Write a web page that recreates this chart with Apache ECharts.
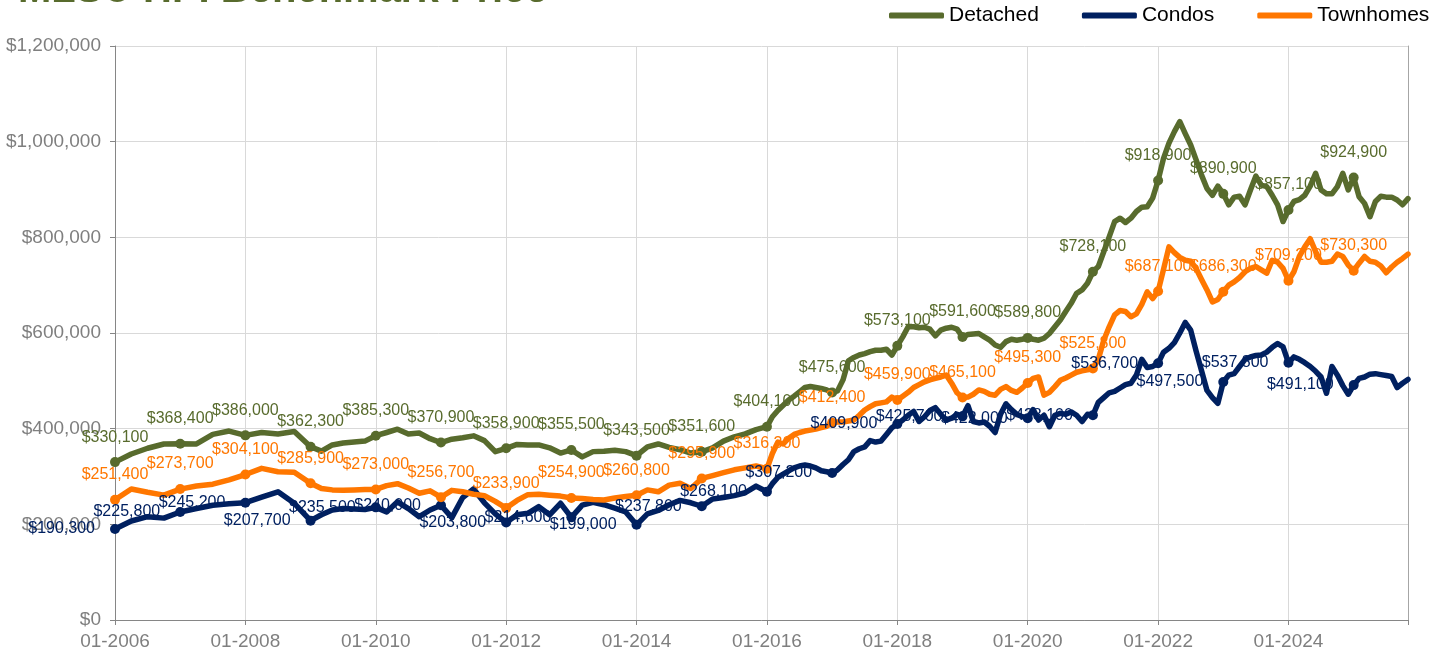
<!DOCTYPE html>
<html>
<head>
<meta charset="utf-8">
<script src="https://cdn.jsdelivr.net/npm/echarts@6/dist/echarts.min.js"></script>
<style>
html,body{margin:0;padding:0;background:#fff;}
#chart{width:1448px;height:654px;}
</style>
</head>
<body>
<div id="chart"></div>
<script>
// Dates of data points (quarterly 2006-2008, bi-monthly 2009-2015, monthly 2016-2025)
const dates = [
"2006-01","2006-04","2006-07","2006-10","2007-01","2007-04","2007-07","2007-10","2008-01","2008-04","2008-07","2008-10",
"2009-01","2009-03","2009-05","2009-07","2009-09","2009-11",
"2010-01","2010-03","2010-05","2010-07","2010-09","2010-11",
"2011-01","2011-03","2011-05","2011-07","2011-09","2011-11",
"2012-01","2012-03","2012-05","2012-07","2012-09","2012-11",
"2013-01","2013-03","2013-05","2013-07","2013-09","2013-11",
"2014-01","2014-03","2014-05","2014-07","2014-09","2014-11",
"2015-01","2015-03","2015-05","2015-07","2015-09","2015-11",
"2016-01","2016-02","2016-03","2016-04","2016-05","2016-06","2016-07","2016-08","2016-09","2016-10","2016-11","2016-12",
"2017-01","2017-02","2017-03","2017-04","2017-05","2017-06","2017-07","2017-08","2017-09","2017-10","2017-11","2017-12",
"2018-01","2018-02","2018-03","2018-04","2018-05","2018-06","2018-07","2018-08","2018-09","2018-10","2018-11","2018-12",
"2019-01","2019-02","2019-03","2019-04","2019-05","2019-06","2019-07","2019-08","2019-09","2019-10","2019-11","2019-12",
"2020-01","2020-02","2020-03","2020-04","2020-05","2020-06","2020-07","2020-08","2020-09","2020-10","2020-11","2020-12",
"2021-01","2021-02","2021-03","2021-04","2021-05","2021-06","2021-07","2021-08","2021-09","2021-10","2021-11","2021-12",
"2022-01","2022-02","2022-03","2022-04","2022-05","2022-06","2022-07","2022-08","2022-09","2022-10","2022-11","2022-12",
"2023-01","2023-02","2023-03","2023-04","2023-05","2023-06","2023-07","2023-08","2023-09","2023-10","2023-11","2023-12",
"2024-01","2024-02","2024-03","2024-04","2024-05","2024-06","2024-07","2024-08","2024-09","2024-10","2024-11","2024-12",
"2025-01","2025-02","2025-03","2025-04","2025-05","2025-06","2025-07","2025-08","2025-09","2025-10","2025-11"
];

// Benchmark prices in thousands of dollars
const detached = [
330.1,347,359,368, 368.4,368,388,395, 386.0,392,389,394,
362.3,353,366,370,372,374,
385.3,392,399,389,391,379,
370.9,378,381,385,375,352,
358.9,367,366,366,360,349,
355.5,341,352,353,355,352,
343.5,362,368,361,356,349,
351.6,360,374,383,389,398,
404.1,425,438,449,460,468,477,486,488,486,484,481,
475.6,479,502,542,549,554,557,561,564,564,566,554,
573.1,592,613,613,611,612,608,594,606,610,612,608,
591.6,597,598,599,592,585,575,570,582,587,585,587,
589.8,587,585,589,599,613,627,645,662,683,690,704,
728.1,739,770,801,833,840,831,840,854,863,864,882,
918.9,965,997,1021,1042,1017,993,962,930,902,888,907,
890.9,868,884,886,868,899,928,909,906,888,868,833,
857.1,875,879,888,907,934,899,891,891,906,934,899,
924.9,885,871,843,875,886,884,884,878,868,881
];

const condos = [
190.3,207,216,213, 225.8,233,240,243, 245.2,257,268,244,
207.7,220,230,233,232,231,
235.5,226,247,233,216,230,
240.0,214,256,274,245,222,
203.8,220,223,237,220,244,
214.6,240,246,241,234,226,
199.0,222,229,241,250,245,
237.8,253,256,260,266,280,
268.1,285,298,305,312,318,322,324,322,318,312,310,
307.2,314,325,335,352,358,362,375,372,374,388,402,
409.9,418,428,436,415,425,438,444,430,418,422,430,
425.7,448,415,412,414,405,392,430,452,440,430,425,
422.0,440,418,428,404,428,432,430,435,428,415,430,
428.1,455,465,475,478,485,492,495,512,545,528,530,
536.7,560,568,580,600,622,606,562,521,480,465,453,
497.5,512,515,530,545,550,553,554,560,570,578,571,
537.8,550,545,538,530,520,508,474,530,512,490,472,
491.1,505,508,514,515,513,511,509,486,495,503
];

const townhomes = [
251.4,274,267,261, 273.7,280,284,293, 304.1,317,310,309,
285.9,275,272,271,272,273,
273.0,281,285,276,265,270,
256.7,271,268,263,260,248,
233.9,250,262,263,261,259,
254.9,254,252,251,255,258,
260.8,272,268,282,286,275,
295.9,302,308,314,318,322,
316.3,348,372,368,380,388,392,395,397,399,402,405,
412.4,414,414,416,418,428,439,446,452,454,456,466,
459.9,468,476,486,492,498,502,505,508,512,495,475,
465.1,466,472,481,478,472,470,482,488,480,476,485,
495.3,505,508,470,476,488,501,506,512,518,521,523,
525.8,545,585,613,638,647,645,634,640,660,686,672,
687.1,733,780,768,758,752,750,735,712,690,665,670,
686.3,700,707,716,728,735,739,732,725,752,748,735,
709.2,728,760,780,797,770,748,748,750,765,760,742,
730.3,746,760,750,748,740,726,738,748,756,765
];

const seriesNames = ["Detached","Condos","Townhomes"];
const seriesColors = ["#586b2d","#002060","#ff7700"];
const yTicks = {min:0, max:1200000, interval:200000};

function monthIndex(d){ const p=d.split("-"); return (parseInt(p[0])-2006)*12 + parseInt(p[1]) - 1; }
function money(v){ return "$" + Math.round(v).toLocaleString("en-US"); }
const FONT = "Liberation Sans";

function buildData(vals){
  return dates.map((d,i)=>{
    const x = monthIndex(d);
    const y = Math.round(vals[i]*1000);
    if (d.endsWith("-01")) {
      return {value:[x,y], symbol:"circle", symbolSize:10, label:{show:true}};
    }
    return {value:[x,y], symbol:"none"};
  });
}

const labelPos = ["top","left","top"];
const labelDist = [12,15,12];
const allVals = [detached, condos, townhomes];

const series = seriesNames.map((name,k)=>({
  name:name, type:"line", data:buildData(allVals[k]),
  symbol:"none", showSymbol:true,
  lineStyle:{width:5.5, color:seriesColors[k], cap:"round", join:"round"},
  itemStyle:{color:seriesColors[k]},
  label:{show:false, position:labelPos[k], distance:labelDist[k], color:seriesColors[k],
         fontSize:16, fontFamily:FONT, formatter:(p)=>money(p.value[1])},
  emphasis:{disabled:true}, z: 2
}));

const maxMonth = monthIndex(dates[dates.length-1]);

const chart = echarts.init(document.getElementById("chart"), null, {renderer:"canvas"});
chart.setOption({
  animation:false,
  backgroundColor:"#ffffff",
  textStyle:{fontFamily:FONT},
  graphic:[{type:"text", left:18, top:-29, style:{text:"MLS® HPI Benchmark Price", font:"bold 40px Liberation Sans", fill:"#586b2d"}}],
  legend:{
    data:seriesNames, left:884, top:0, itemGap:43, itemWidth:55, itemHeight:6, icon:"roundRect",
    textStyle:{fontSize:21, color:"#000", fontFamily:FONT}
  },
  grid:{left:115, right:40, top:46, bottom:34, containLabel:false},
  xAxis:{
    type:"value", min:0, max:maxMonth, interval:24,
    axisLine:{show:true, lineStyle:{color:"#868686", width:1}},
    axisTick:{show:true, length:5, lineStyle:{color:"#868686"}},
    splitLine:{show:true, lineStyle:{color:"#d9d9d9", width:1}},
    axisLabel:{color:"#7f7f7f", fontSize:19, fontFamily:FONT, margin:12,
      formatter:(v)=>{ if (v%24!==0) return ""; const m=v%12+1, y=2006+Math.floor(v/12); return (m<10?"0":"")+m+"-"+y; }}
  },
  yAxis:[{
    type:"value", min:yTicks.min, max:yTicks.max, interval:yTicks.interval,
    axisLine:{show:true, lineStyle:{color:"#868686", width:1}},
    axisTick:{show:true, length:5, lineStyle:{color:"#868686"}},
    splitLine:{show:true, lineStyle:{color:"#d9d9d9", width:1}},
    axisLabel:{color:"#7f7f7f", fontSize:19, fontFamily:FONT, margin:14, formatter:(v)=>money(v)}
  },{
    type:"value", position:"right", min:yTicks.min, max:yTicks.max, interval:yTicks.interval,
    axisLine:{show:true, lineStyle:{color:"#a6a6a6", width:1}},
    axisTick:{show:false}, axisLabel:{show:false}, splitLine:{show:false}
  }],
  series:series
});
</script>
</body>
</html>
